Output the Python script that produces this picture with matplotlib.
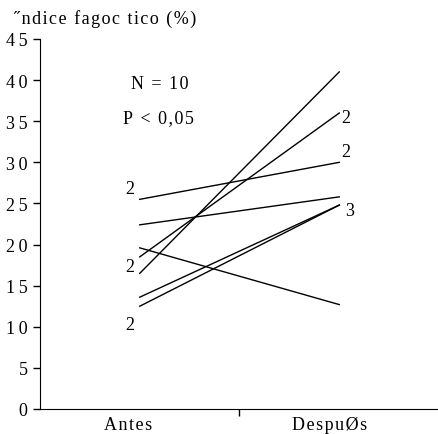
import matplotlib
matplotlib.use("Agg")
import matplotlib.pyplot as plt

plt.rcParams["font.family"] = ["Liberation Serif", "DejaVu Serif"]

categories = ["Antes", "DespuØs"]
antes = [25.5, 22.4, 19.6, 18.5, 16.5, 13.6, 12.5]
despues = [30.0, 25.8, 12.7, 36.0, 41.0, 24.8, 24.8]
yticks = list(range(0, 46, 5))

# counts of overlapping subjects (x, y, label)
count_labels = [
    (0.45, 26.8, "2"), (0.45, 17.3, "2"), (0.45, 10.3, "2"),
    (1.535, 35.5, "2"), (1.535, 31.3, "2"), (1.55, 24.2, "3"),
]


def spaced(s, gap="\u200a"):
    # the original uses wide letter spacing
    return gap.join(s)


fig = plt.figure(figsize=(4.39, 4.35), dpi=100)
ax = fig.add_axes([40 / 439, 1 - 410 / 435, 399 / 439, 370 / 435])

for a, d in zip(antes, despues):
    ax.plot([0.5, 1.5], [a, d], color="black", lw=1)

for x, y, s in count_labels:
    ax.text(x, y, s, ha="center", va="center", fontsize=13)

ax.text(0.6, 39.6, spaced("N = 10"), ha="center", va="center", fontsize=13)
ax.text(0.595, 35.5, spaced("P < 0,05"), ha="center", va="center", fontsize=13)

ax.set_xlim(0, 2)
ax.set_ylim(0, 45)
ax.set_yticks(yticks)
ax.set_yticklabels([spaced(str(v), "\u2009") for v in yticks])
ax.set_xticks([1])
ax.set_xticklabels([])
ax.set_xticks([0.44, 1.45], minor=True)
ax.set_xticklabels([spaced(c) for c in categories], minor=True)
ax.tick_params(axis="x", which="minor", length=0, labelsize=13, pad=5)
ax.tick_params(axis="x", which="major", length=5, width=1)
ax.tick_params(axis="y", labelsize=13, length=5, width=1, pad=4)

for s in ["top", "right"]:
    ax.spines[s].set_visible(False)

fig.text(14 / 439, 1 - 19 / 435, spaced("˝ndice fagoc tico (%)"), ha="left", va="center", fontsize=13)

fig.savefig("out.png", dpi=100)
